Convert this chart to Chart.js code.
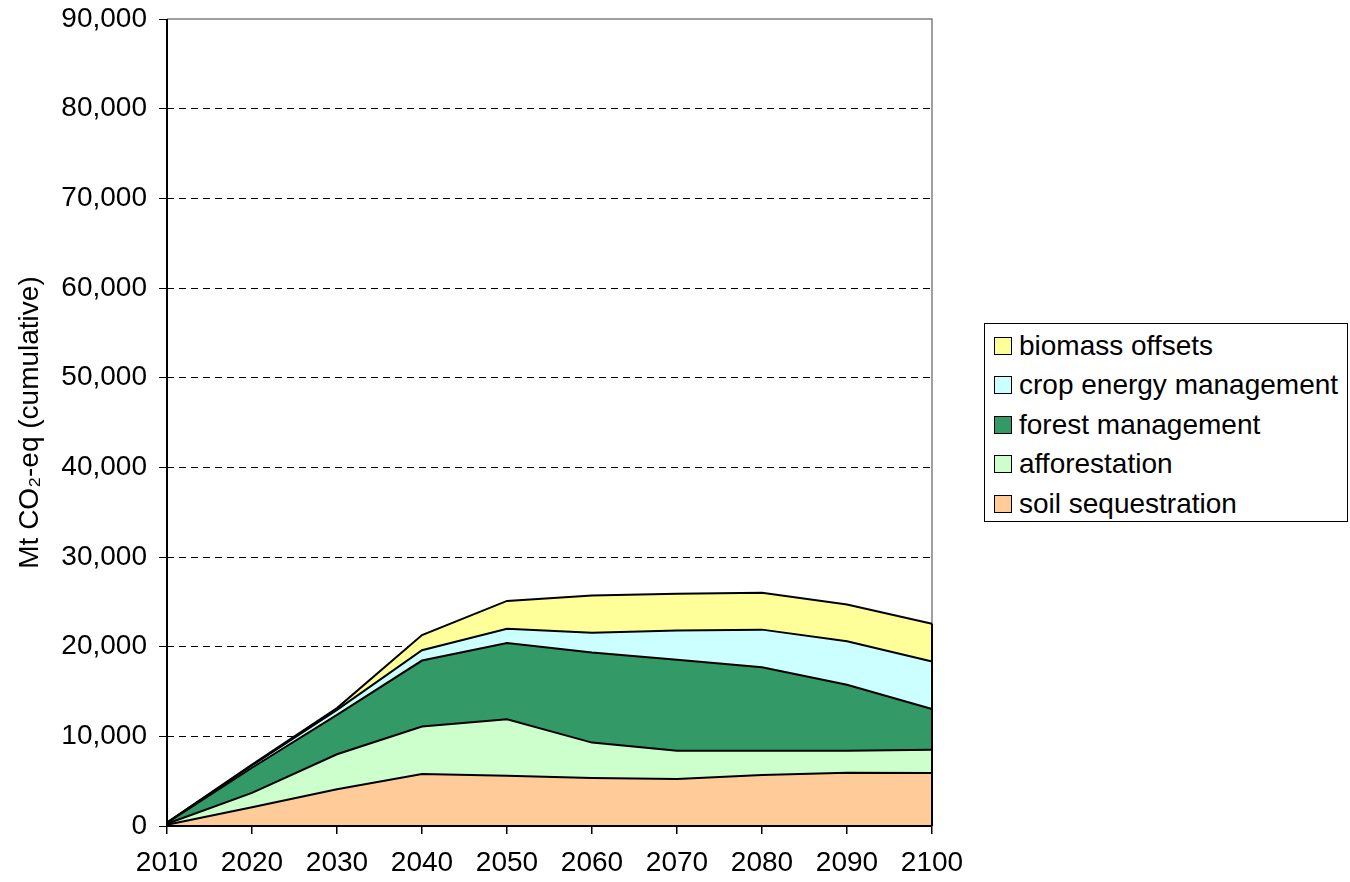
<!DOCTYPE html>
<html>
<head>
<meta charset="utf-8">
<script src="https://cdn.jsdelivr.net/npm/chart.js@4.4.1/dist/chart.umd.min.js"></script>
<style>
  html, body { margin: 0; padding: 0; background: #fff; }
  #wrap { position: relative; width: 1350px; height: 882px; }
  #legend {
    position: absolute; left: 984px; top: 323px; width: 364px; height: 199px;
    border: 1px solid #000; box-sizing: border-box; background: #fff;
    font-family: "Liberation Sans", Arial, sans-serif; font-size: 28px; color: #000;
    padding-top: 2px;
  }
  #legend .row { display: flex; align-items: center; height: 39.5px; padding-left: 9px; }
  #legend .sw { width: 16px; height: 16px; border: 1px solid #000; margin-right: 7px; flex: none; }
</style>
</head>
<body>
<div id="wrap">
  <canvas id="chart" width="1350" height="882"></canvas>
  <div id="legend"></div>
</div>
<script>
const years = ['2010', '2020', '2030', '2040', '2050', '2060', '2070', '2080', '2090', '2100'];
const soilSequestration = [150, 2100, 4100, 5800, 5600, 5350, 5250, 5700, 5950, 5900];
const afforestation = [100, 1600, 3900, 5300, 6300, 3950, 3150, 2700, 2450, 2600];
const forestManagement = [100, 2800, 4400, 7350, 8500, 10050, 10150, 9300, 7350, 4550];
const cropEnergyManagement = [20, 250, 550, 1150, 1600, 2200, 3250, 4200, 4850, 5300];
const biomassOffsets = [20, 100, 200, 1700, 3100, 4150, 4100, 4100, 4100, 4200];
const yTicks = [0, 10000, 20000, 30000, 40000, 50000, 60000, 70000, 80000, 90000];

const series = [
  { label: 'soil sequestration', data: soilSequestration, color: '#FFCC99' },
  { label: 'afforestation', data: afforestation, color: '#CCFFCC' },
  { label: 'forest management', data: forestManagement, color: '#339966' },
  { label: 'crop energy management', data: cropEnergyManagement, color: '#CCFFFF' },
  { label: 'biomass offsets', data: biomassOffsets, color: '#FFFF99' }
];

// legend, top series first like the original
const legend = document.getElementById('legend');
series.slice().reverse().forEach(function (s) {
  const row = document.createElement('div');
  row.className = 'row';
  row.innerHTML = '<span class="sw" style="background:' + s.color + '"></span><span>' + s.label + '</span>';
  legend.appendChild(row);
});

const FONT = { family: '"Liberation Sans", Arial, sans-serif', size: 28 };

const frame = {
  id: 'frame',
  beforeDatasetsDraw(chart) {
    const a = chart.chartArea, ctx = chart.ctx;
    ctx.save();
    ctx.strokeStyle = '#808080';
    ctx.lineWidth = 1.5;
    ctx.beginPath();
    ctx.moveTo(a.left, a.top); ctx.lineTo(a.right, a.top); ctx.lineTo(a.right, a.bottom);
    ctx.stroke();
    ctx.restore();
  },
  afterDatasetsDraw(chart) {
    const a = chart.chartArea, ctx = chart.ctx, y = chart.scales.y;
    const last = years.length - 1;
    let total = 0;
    series.forEach(function (s) { total += s.data[last]; });
    ctx.save();
    ctx.strokeStyle = '#000';
    ctx.lineWidth = 2;
    ctx.beginPath();
    ctx.moveTo(a.right, y.getPixelForValue(total)); ctx.lineTo(a.right, a.bottom);
    ctx.stroke();
    ctx.beginPath();
    ctx.moveTo(a.left, a.top); ctx.lineTo(a.left, a.bottom); ctx.lineTo(a.right, a.bottom);
    ctx.stroke();
    ctx.restore();
  }
};

new Chart(document.getElementById('chart').getContext('2d'), {
  type: 'line',
  data: {
    labels: years,
    datasets: series.map(function (s, i) {
      return {
        label: s.label,
        data: s.data,
        backgroundColor: s.color,
        borderColor: '#000',
        borderWidth: 2,
        pointRadius: 0,
        tension: 0,
        fill: i === 0 ? 'origin' : '-1'
      };
    })
  },
  options: {
    responsive: false,
    animation: false,
    devicePixelRatio: 1,
    layout: { padding: { top: 19, right: 418, left: 0, bottom: 0 } },
    plugins: { legend: { display: false }, tooltip: { enabled: false } },
    scales: {
      x: {
        offset: false,
        grid: { drawOnChartArea: false, tickLength: 8, tickColor: '#000', lineWidth: 1.5 },
        border: { display: false },
        ticks: { color: '#000', font: FONT, padding: 12, maxRotation: 0, autoSkip: false },
        afterFit(scale) { scale.height = 56; }
      },
      y: {
        stacked: true,
        min: 0,
        max: 90000,
        afterBuildTicks(scale) { scale.ticks = yTicks.map(function (v) { return { value: v }; }); },
        grid: {
          color: function (c) { return (c.tick && (c.tick.value === 0 || c.tick.value === 90000)) ? 'rgba(0,0,0,0)' : '#000'; },
          lineWidth: 1,
          tickLength: 8,
          tickColor: '#000'
        },
        border: { display: false, dash: [7, 5] },
        ticks: {
          color: '#000', font: FONT, padding: 12,
          callback: function (v) { return v.toLocaleString('en-US'); }
        },
        title: { display: true, text: 'Mt CO\u2082-eq (cumulative)', color: '#000', font: FONT, padding: { top: 13, bottom: 0 } },
        afterFit(scale) {
          scale.width = 167;
          scale.paddingTop = 0;
          scale.paddingBottom = 0;
        }
      }
    }
  },
  plugins: [frame]
});
</script>
</body>
</html>
